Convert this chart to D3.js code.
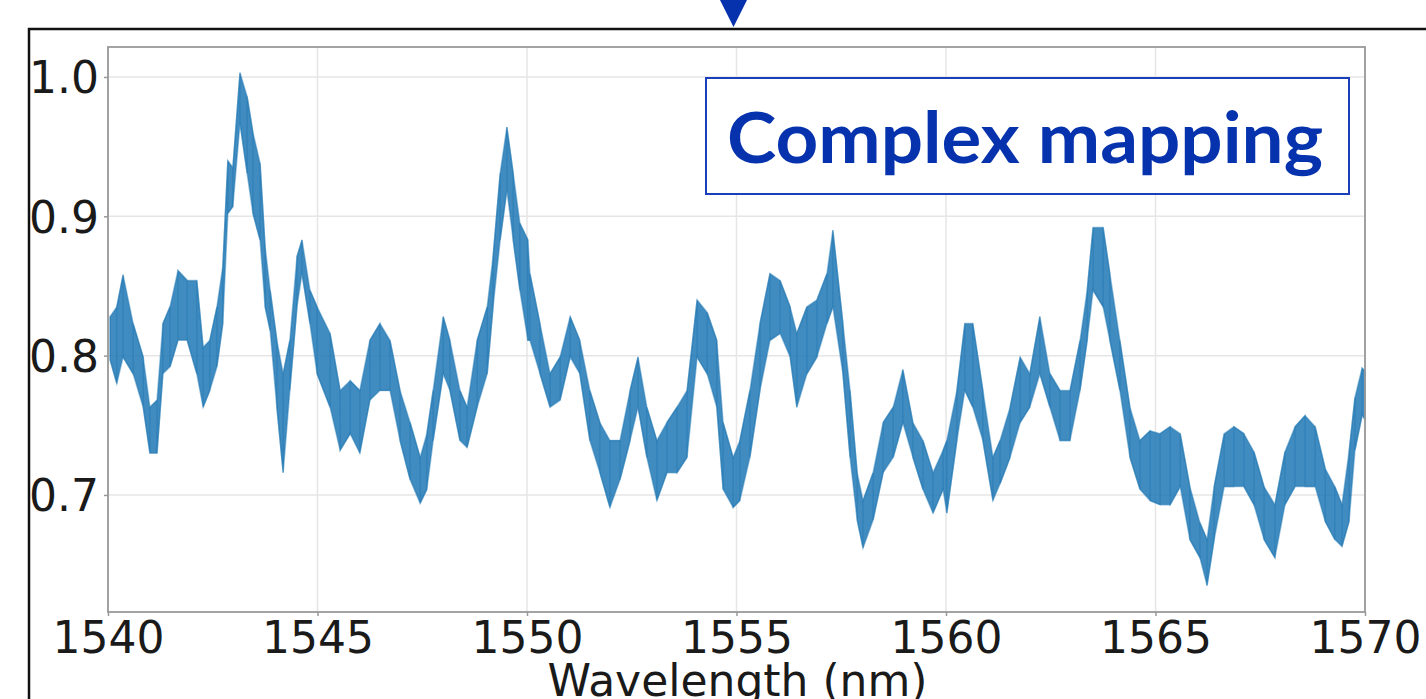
<!DOCTYPE html>
<html>
<head>
<meta charset="utf-8">
<script src="https://cdn.jsdelivr.net/npm/d3@7"></script>
<style>
  body { margin: 0; background: #fff; }
  svg { display: block; }
</style>
</head>
<body>
<svg id="chart" width="1426" height="699"></svg>
<script>

// wavelength samples (nm) with the upper / lower edge of the noisy trace
const wavelength = [1540.05,1540.21,1540.36,1540.60,1540.84,1541.00,1541.17,1541.31,1541.48,1541.67,
  1541.89,1542.12,1542.27,1542.43,1542.60,1542.74,1542.86,1542.98,1543.15,1543.32,
  1543.46,1543.63,1543.75,1543.87,1544.03,1544.18,1544.34,1544.51,1544.63,1544.82,
  1544.99,1545.30,1545.54,1545.78,1546.01,1546.25,1546.49,1546.73,1546.97,1547.21,
  1547.45,1547.61,1547.76,1548.00,1548.16,1548.40,1548.57,1548.81,1549.05,1549.19,
  1549.36,1549.52,1549.67,1549.83,1550.02,1550.07,1550.31,1550.55,1550.79,1551.03,
  1551.26,1551.50,1551.74,1551.98,1552.22,1552.46,1552.65,1552.86,1553.10,1553.34,
  1553.58,1553.82,1554.06,1554.30,1554.53,1554.68,1554.92,1555.08,1555.32,1555.56,
  1555.80,1556.04,1556.28,1556.44,1556.68,1556.92,1557.16,1557.30,1557.54,1557.71,
  1557.88,1558.02,1558.26,1558.50,1558.74,1558.97,1559.21,1559.45,1559.69,1559.93,
  1560.02,1560.26,1560.45,1560.64,1560.88,1561.12,1561.29,1561.53,1561.77,1562.00,
  1562.24,1562.48,1562.72,1562.96,1563.20,1563.37,1563.51,1563.75,1563.91,1564.15,
  1564.39,1564.63,1564.87,1565.11,1565.35,1565.59,1565.82,1566.06,1566.23,1566.40,
  1566.64,1566.87,1567.11,1567.35,1567.59,1567.85,1568.09,1568.33,1568.57,1568.81,
  1569.05,1569.28,1569.45,1569.62,1569.76,1569.93,1570.00];

const upper = [0.828,0.835,0.858,0.823,0.799,0.763,0.768,0.823,0.835,0.861,
  0.854,0.854,0.806,0.811,0.835,0.864,0.940,0.935,1.003,0.986,
  0.960,0.938,0.878,0.847,0.811,0.787,0.811,0.871,0.883,0.847,
  0.835,0.816,0.775,0.782,0.775,0.811,0.823,0.811,0.775,0.752,
  0.727,0.744,0.775,0.828,0.811,0.775,0.763,0.811,0.835,0.871,
  0.931,0.964,0.931,0.895,0.883,0.859,0.823,0.787,0.799,0.828,
  0.811,0.775,0.752,0.739,0.739,0.775,0.799,0.763,0.739,0.752,
  0.763,0.775,0.840,0.831,0.811,0.752,0.727,0.739,0.775,0.823,
  0.859,0.854,0.835,0.816,0.835,0.840,0.859,0.890,0.823,0.775,
  0.716,0.696,0.716,0.752,0.763,0.790,0.752,0.739,0.716,0.732,
  0.739,0.775,0.823,0.823,0.775,0.727,0.739,0.763,0.799,0.787,
  0.828,0.787,0.775,0.775,0.811,0.847,0.892,0.892,0.859,0.811,
  0.763,0.739,0.746,0.744,0.749,0.744,0.706,0.680,0.668,0.706,
  0.744,0.749,0.744,0.731,0.706,0.693,0.731,0.749,0.757,0.749,
  0.719,0.706,0.693,0.731,0.770,0.791,0.789];

const lower = [0.797,0.780,0.799,0.787,0.763,0.730,0.730,0.787,0.792,0.811,
  0.811,0.787,0.763,0.775,0.792,0.823,0.902,0.907,0.967,0.931,
  0.902,0.883,0.835,0.818,0.763,0.716,0.775,0.835,0.859,0.823,
  0.787,0.763,0.732,0.744,0.730,0.768,0.775,0.775,0.739,0.711,
  0.694,0.704,0.739,0.787,0.775,0.739,0.734,0.763,0.787,0.835,
  0.883,0.919,0.883,0.847,0.811,0.811,0.787,0.763,0.768,0.799,
  0.787,0.739,0.716,0.691,0.711,0.739,0.763,0.727,0.696,0.716,
  0.716,0.727,0.799,0.787,0.763,0.704,0.691,0.696,0.727,0.775,
  0.811,0.816,0.799,0.763,0.787,0.799,0.823,0.835,0.787,0.727,
  0.682,0.662,0.682,0.716,0.727,0.752,0.727,0.704,0.687,0.704,
  0.687,0.739,0.775,0.763,0.739,0.696,0.708,0.727,0.752,0.763,
  0.787,0.763,0.739,0.739,0.775,0.811,0.847,0.835,0.811,0.775,
  0.727,0.704,0.696,0.693,0.693,0.706,0.668,0.655,0.635,0.668,
  0.706,0.706,0.706,0.693,0.668,0.655,0.693,0.706,0.706,0.706,
  0.681,0.668,0.663,0.681,0.732,0.757,0.754];

const xTicks = [1540, 1545, 1550, 1555, 1560, 1565, 1570];
const yTicks = [0.7, 0.8, 0.9, 1.0];
const legendText = "Complex mapping";
const xLabel = "Wavelength (nm)";

const svg = d3.select("#chart");
const blue = "#1f77b4";
const navy = "#0633ad";

// plot box
const plotLeft = 108, plotRight = 1365, plotTop = 47, plotBottom = 612;

const x = d3.scaleLinear().domain([1540, 1570]).range([plotLeft, plotRight]);
const y = d3.scaleLinear().domain([0.616, 1.0215]).range([plotBottom, plotTop]);

// outer slide frame and the pointer above it
svg.append("path")
    .attr("d", "M29,699 V29 H1426")
    .attr("fill", "none")
    .attr("stroke", "#111")
    .attr("stroke-width", 2.5);

svg.append("path")
    .attr("d", "M720,0 L747,0 L733.5,27 Z")
    .attr("fill", navy);

// grid
const g = svg.append("g");

g.selectAll(".vgrid").data(xTicks).enter()
  .append("line")
    .attr("x1", d => x(d)).attr("x2", d => x(d))
    .attr("y1", plotTop).attr("y2", plotBottom)
    .attr("stroke", "#e6e6e6").attr("stroke-width", 1.5);

g.selectAll(".hgrid").data(yTicks).enter()
  .append("line")
    .attr("x1", plotLeft).attr("x2", plotRight)
    .attr("y1", d => y(d)).attr("y2", d => y(d))
    .attr("stroke", "#e6e6e6").attr("stroke-width", 1.5);

// trace: filled noise band plus a zigzag between the edges
const pts = wavelength.map((w, i) => ({w: w, hi: upper[i], lo: lower[i]}));

const band = d3.area()
    .x(d => x(d.w))
    .y0(d => y(d.lo))
    .y1(d => y(d.hi));

g.append("path")
    .datum(pts)
    .attr("d", band)
    .attr("fill", blue)
    .attr("fill-opacity", 0.85)
    .attr("stroke", blue)
    .attr("stroke-opacity", 0.45)
    .attr("stroke-width", 1.5);

const zig = [];
pts.forEach((d, i) => {
  zig.push([d.w, i % 2 ? d.lo : d.hi]);
  zig.push([d.w, i % 2 ? d.hi : d.lo]);
});

g.append("path")
    .datum(zig)
    .attr("d", d3.line().x(d => x(d[0])).y(d => y(d[1])))
    .attr("fill", "none")
    .attr("stroke", blue)
    .attr("stroke-width", 1.2)
    .attr("stroke-opacity", 0.5);

// axes
const xAxis = svg.append("g")
    .attr("transform", `translate(0,${plotBottom})`)
    .call(d3.axisBottom(x).tickValues(xTicks).tickFormat(d3.format("d")).tickSize(4).tickPadding(4));

const yAxis = svg.append("g")
    .attr("transform", `translate(${plotLeft},0)`)
    .call(d3.axisLeft(y).tickValues(yTicks).tickFormat(d3.format(".1f")).tickSize(4).tickPadding(5));

[xAxis, yAxis].forEach(a => {
  a.select(".domain").remove();
  a.selectAll("line").attr("stroke", "#999").attr("stroke-width", 1.5);
  a.selectAll("text")
    .attr("fill", "#1a1a1a")
    .style("font-family", "'DejaVu Sans', sans-serif")
    .style("font-size", "44px");
});
xAxis.selectAll("text").attr("dy", "0.76em");
yAxis.selectAll("text").attr("dy", "0.36em");

// spines
svg.append("rect")
    .attr("x", plotLeft).attr("y", plotTop)
    .attr("width", plotRight - plotLeft).attr("height", plotBottom - plotTop)
    .attr("fill", "none")
    .attr("stroke", "#9a9a9a")
    .attr("stroke-width", 1.8);

svg.append("text")
    .attr("x", (plotLeft + plotRight) / 2 + 1)
    .attr("y", 696)
    .attr("text-anchor", "middle")
    .attr("fill", "#1a1a1a")
    .style("font-family", "'DejaVu Sans', sans-serif")
    .style("font-size", "44px")
    .text(xLabel);

// label box
svg.append("rect")
    .attr("x", 706).attr("y", 78)
    .attr("width", 643).attr("height", 116)
    .attr("fill", "#fff")
    .attr("stroke", "#1b3fb8")
    .attr("stroke-width", 2);

svg.append("text")
    .attr("x", 727)
    .attr("y", 163)
    .attr("textLength", 596)
    .attr("lengthAdjust", "spacingAndGlyphs")
    .attr("fill", navy)
    .style("font-family", "Lato, 'Open Sans', sans-serif")
    .style("font-weight", 700)
    .style("font-size", "70px")
    .text(legendText);

</script>
</body>
</html>
